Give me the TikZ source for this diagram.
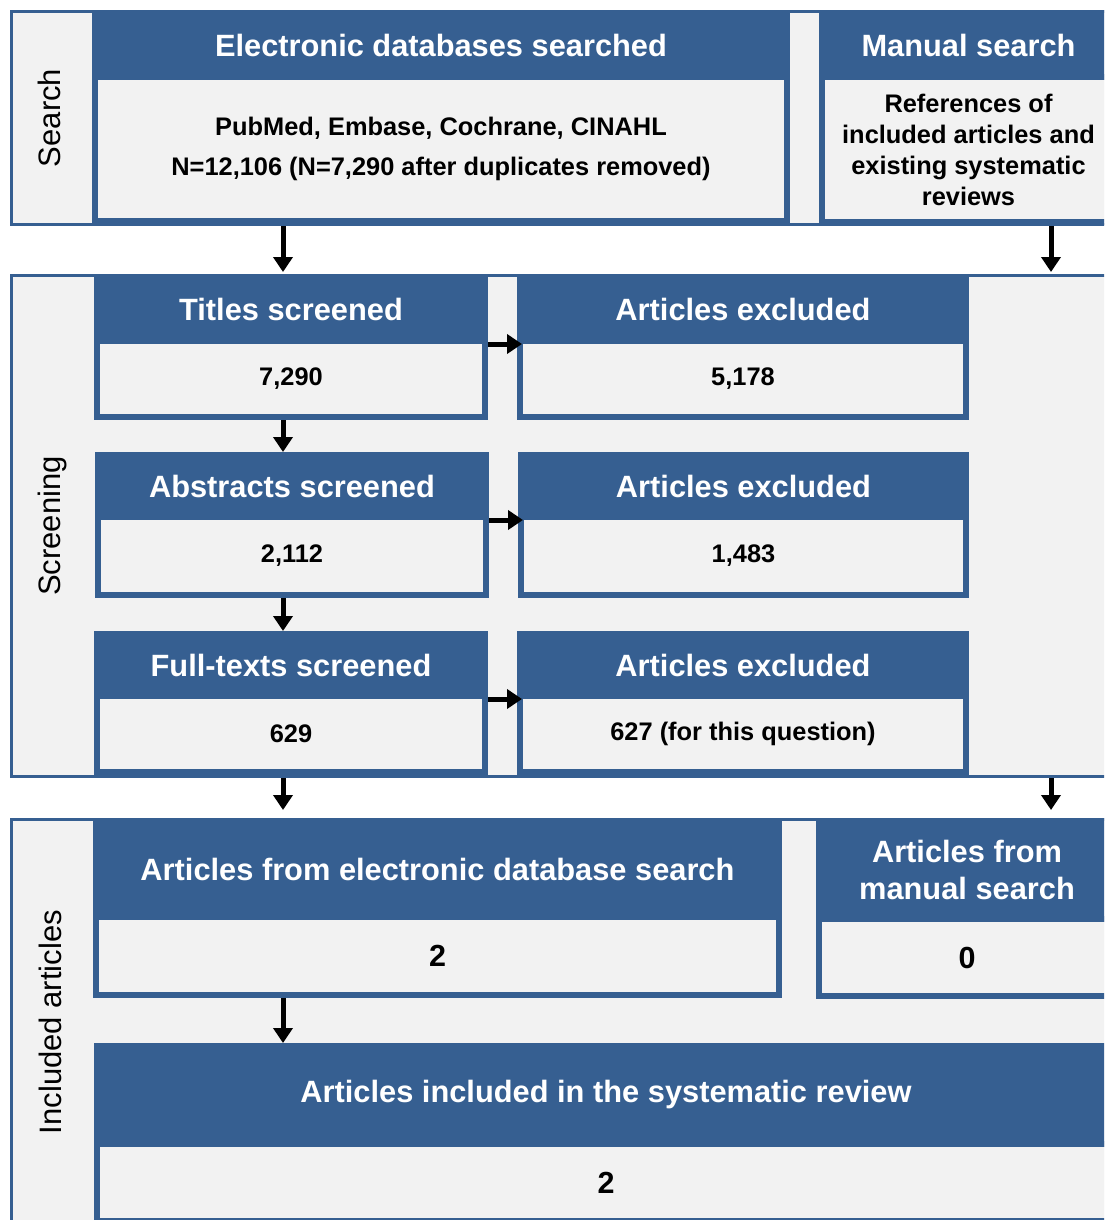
\documentclass[tikz,border=0pt]{standalone}
\usepackage{fontspec}
\setmainfont{Liberation Sans}
\usetikzlibrary{positioning,arrows.meta}
\definecolor{boxblue}{RGB}{54,95,145}
\definecolor{boxgray}{RGB}{242,242,242}
\tikzset{
  panel/.style={fill=boxgray, draw=boxblue, line width=3pt, anchor=north west, inner sep=0pt},
  head/.style={fill=boxblue, text=white, anchor=north west, inner sep=0pt, outer sep=0pt, align=center, font=\bfseries\fontsize{30.8}{37}\selectfont},
  body/.style={fill=boxgray, draw=boxblue, line width=6pt, inner sep=0pt, align=center, font=\bfseries\fontsize{25.4}{31}\selectfont},
  bignum/.style={font=\bfseries\fontsize{30.5}{36}\selectfont},
  side/.style={rotate=90, font=\fontsize{31}{36}\selectfont},
  arr/.style={-{Triangle[width=19pt,length=15pt]}, line width=5pt}
}
\begin{document}
\begin{tikzpicture}[x=1pt,y=-1pt]
    \useasboundingbox (0,0) rectangle (1104,1220);
    \clip (0,0) rectangle (1104,1220);
    % panels
    \node[panel,minimum width=1112pt,minimum height=213pt] (searchpanel) at (10,10) {};
    \node[panel,minimum width=1112pt,minimum height=501pt] (screenpanel) at (10,274) {};
    \node[panel,minimum width=1112pt,minimum height=409pt] (incpanel) at (10,818) {};
    \node[side] (searchlbl) at (49,118) {Search};
    \node[side] (screenlbl) at (52,526) {Screening};
    \node[side] (inclbl) at (50,1022) {Included articles};
    % search
    \node[head,minimum width=698pt,minimum height=70pt] (dbhead) at (92,10) {Electronic databases searched};
    \node[body,minimum width=692pt,minimum height=144pt,below=-6pt of dbhead] (dbbody) {PubMed, Embase, Cochrane, CINAHL\\[9pt]N=12,106 (N=7,290 after duplicates removed)};
    \node[head,minimum width=299pt,minimum height=70pt] (manhead) at (819,10) {Manual search};
    \node[body,minimum width=293pt,minimum height=145pt,below=-6pt of manhead] (manbody) {References of\\included articles and\\existing systematic\\reviews};
    % screening
    \node[head,minimum width=394pt,minimum height=70pt] (titlehead) at (94,274) {Titles screened};
    \node[body,minimum width=388pt,minimum height=76pt,below=-6pt of titlehead] (titlebody) {7,290};
    \node[head,minimum width=452pt,minimum height=70pt] (ex1head) at (517,274) {Articles excluded};
    \node[body,minimum width=446pt,minimum height=76pt,below=-6pt of ex1head] (ex1body) {5,178};
    \node[head,minimum width=394pt,minimum height=68pt] (abshead) at (95,452) {Abstracts screened};
    \node[body,minimum width=388pt,minimum height=78pt,below=-6pt of abshead] (absbody) {2,112};
    \node[head,minimum width=451pt,minimum height=68pt] (ex2head) at (518,452) {Articles excluded};
    \node[body,minimum width=445pt,minimum height=78pt,below=-6pt of ex2head] (ex2body) {1,483};
    \node[head,minimum width=394pt,minimum height=68pt] (fullhead) at (94,631) {Full-texts screened};
    \node[body,minimum width=388pt,minimum height=76pt,below=-6pt of fullhead] (fullbody) {629};
    \node[head,minimum width=452pt,minimum height=68pt] (ex3head) at (517,631) {Articles excluded};
    \node[body,minimum width=446pt,minimum height=76pt,below=-6pt of ex3head] (ex3body) {627 (for this question)};
    % included articles
    \node[head,minimum width=689pt,minimum height=102pt] (incdbhead) at (93,818) {Articles from electronic database search};
    \node[body,bignum,minimum width=683pt,minimum height=78pt,below=-6pt of incdbhead] (incdbbody) {2};
    \node[head,minimum width=302pt,minimum height=104pt] (incmanhead) at (816,818) {Articles from\\manual search};
    \node[body,bignum,minimum width=296pt,minimum height=77pt,below=-6pt of incmanhead] (incmanbody) {0};
    \node[head,minimum width=1024pt,minimum height=104pt] (finalhead) at (94,1043) {Articles included in the systematic review};
    \node[body,bignum,minimum width=1018pt,minimum height=77pt,below=-6pt of finalhead] (finalbody) {2};
    % arrows
    \coordinate (lx) at (283,0);
    \coordinate (rx) at (1051,0);
    \draw[arr,shorten >=2pt] (lx |- searchpanel.south) -- (lx |- screenpanel.north);
    \draw[arr,shorten >=2pt] (rx |- searchpanel.south) -- (rx |- screenpanel.north);
    \draw[arr] (lx |- titlebody.south) -- (lx |- abshead.north);
    \draw[arr] (lx |- absbody.south) -- (lx |- fullhead.north);
    \draw[arr,shorten >=-5pt] (titlehead.south east) -- (ex1head.south west);
    \draw[arr,shorten >=-5pt] (abshead.south east) -- (ex2head.south west);
    \draw[arr,shorten >=-5pt] (fullhead.south east) -- (ex3head.south west);
    \draw[arr,shorten >=8pt] (lx |- screenpanel.south) -- (lx |- incpanel.north);
    \draw[arr,shorten >=8pt] (rx |- screenpanel.south) -- (rx |- incpanel.north);
    \draw[arr] (lx |- incdbbody.south) -- (lx |- finalhead.north);
\end{tikzpicture}
\end{document}
